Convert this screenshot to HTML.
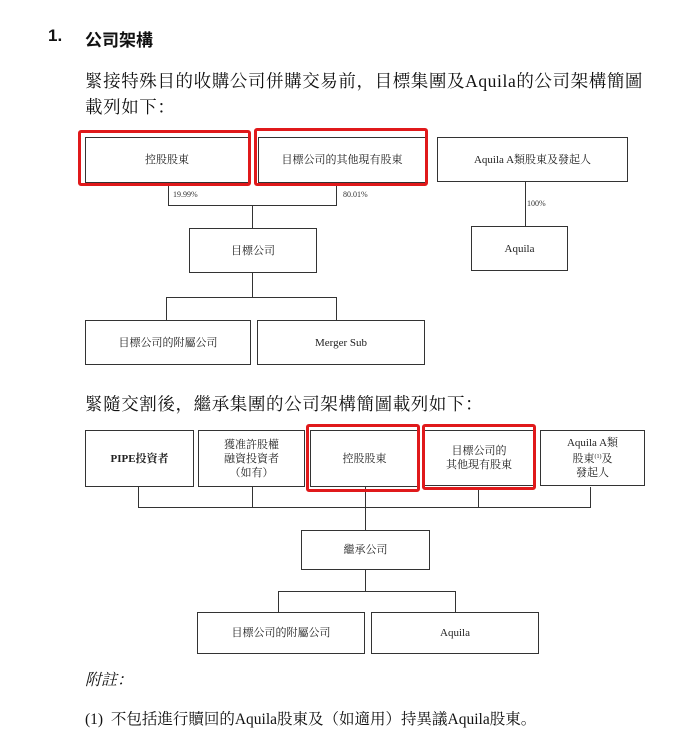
<!DOCTYPE html>
<html><head><meta charset="utf-8"><style>
body{margin:0;width:700px;height:756px;background:#fff;position:relative;font-family:"Liberation Serif","Noto Serif CJK SC",serif;color:#111;overflow:hidden}
.t{position:absolute;white-space:nowrap}
.b{position:absolute;border:1.3px solid #333;box-sizing:border-box;display:flex;align-items:center;justify-content:center;text-align:center;font-size:11px;line-height:14px;color:#222;background:#fff}
.r{position:absolute;border:3px solid #e0191b;border-radius:3px;box-sizing:border-box}
.l{position:absolute;background:#333}
.s{font-size:8px;position:absolute;color:#333}
</style></head><body>
<div class="t" style="left:48px;top:26px;font-size:17px;font-weight:bold;font-family:'Liberation Sans','Noto Sans CJK SC',sans-serif">1.</div>
<div class="t" style="left:85px;top:26px;font-size:17px;font-weight:bold;font-family:'Liberation Sans','Noto Sans CJK SC',sans-serif">公司架構</div>
<div class="t" style="left:85px;top:68px;font-size:17.5px;letter-spacing:0.6px">緊接特殊目的收購公司併購交易前，目標集團及Aquila的公司架構簡圖</div>
<div class="t" style="left:85px;top:94px;font-size:17.5px;letter-spacing:0.6px">載列如下：</div>

<div class="l" style="left:168px;top:183px;width:1px;height:22px"></div>
<div class="l" style="left:336px;top:183px;width:1px;height:22px"></div>
<div class="l" style="left:168px;top:205px;width:169px;height:1px"></div>
<div class="l" style="left:252px;top:205px;width:1px;height:23px"></div>
<div class="l" style="left:252px;top:273px;width:1px;height:24px"></div>
<div class="l" style="left:166px;top:297px;width:171px;height:1px"></div>
<div class="l" style="left:166px;top:297px;width:1px;height:23px"></div>
<div class="l" style="left:336px;top:297px;width:1px;height:23px"></div>
<div class="l" style="left:525px;top:182px;width:1px;height:44px"></div>
<div class="s" style="left:173px;top:190px">19.99%</div>
<div class="s" style="left:343px;top:190px">80.01%</div>
<div class="s" style="left:527px;top:199px">100%</div>

<div class="b" style="left:85px;top:137px;width:164px;height:46px">控股股東</div>
<div class="b" style="left:258px;top:137px;width:168px;height:46px">目標公司的其他現有股東</div>
<div class="b" style="left:437px;top:137px;width:191px;height:45px">Aquila A類股東及發起人</div>
<div class="b" style="left:189px;top:228px;width:128px;height:45px">目標公司</div>
<div class="b" style="left:471px;top:226px;width:97px;height:45px">Aquila</div>
<div class="b" style="left:85px;top:320px;width:166px;height:45px">目標公司的附屬公司</div>
<div class="b" style="left:257px;top:320px;width:168px;height:45px">Merger Sub</div>
<div class="r" style="left:78px;top:130px;width:173px;height:56px"></div>
<div class="r" style="left:254px;top:128px;width:174px;height:58px"></div>

<div class="t" style="left:85px;top:391px;font-size:17.5px;letter-spacing:0.6px">緊隨交割後，繼承集團的公司架構簡圖載列如下：</div>

<div class="l" style="left:138px;top:487px;width:1px;height:20px"></div>
<div class="l" style="left:252px;top:487px;width:1px;height:20px"></div>
<div class="l" style="left:478px;top:487px;width:1px;height:20px"></div>
<div class="l" style="left:590px;top:487px;width:1px;height:20px"></div>
<div class="l" style="left:138px;top:507px;width:453px;height:1px"></div>
<div class="l" style="left:365px;top:487px;width:1px;height:43px"></div>
<div class="l" style="left:365px;top:570px;width:1px;height:21px"></div>
<div class="l" style="left:278px;top:591px;width:178px;height:1px"></div>
<div class="l" style="left:278px;top:591px;width:1px;height:21px"></div>
<div class="l" style="left:455px;top:591px;width:1px;height:21px"></div>

<div class="b" style="left:85px;top:430px;width:109px;height:57px;font-weight:bold">PIPE投資者</div>
<div class="b" style="left:198px;top:430px;width:107px;height:57px"><div>獲准許股權<br>融資投資者<br>（如有）</div></div>
<div class="b" style="left:310px;top:430px;width:109px;height:57px">控股股東</div>
<div class="b" style="left:424px;top:430px;width:110px;height:56px"><div>目標公司的<br>其他現有股東</div></div>
<div class="b" style="left:540px;top:430px;width:105px;height:56px"><div>Aquila A類<br>股東<span style="font-size:6px;vertical-align:4px">(1)</span>及<br>發起人</div></div>
<div class="b" style="left:301px;top:530px;width:129px;height:40px">繼承公司</div>
<div class="b" style="left:197px;top:612px;width:168px;height:42px">目標公司的附屬公司</div>
<div class="b" style="left:371px;top:612px;width:168px;height:42px">Aquila</div>
<div class="r" style="left:306px;top:424px;width:114px;height:68px"></div>
<div class="r" style="left:422px;top:424px;width:114px;height:66px"></div>

<div class="t" style="left:85px;top:667px;font-size:16px;font-style:italic">附註：</div>
<div class="t" style="left:85px;top:707px;font-size:15.5px">(1)&nbsp;&nbsp;不包括進行贖回的Aquila股東及（如適用）持異議Aquila股東。</div>
</body></html>
